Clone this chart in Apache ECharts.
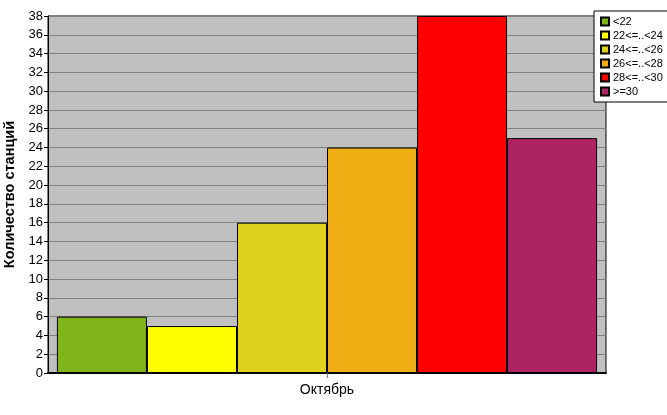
<!DOCTYPE html>
<html><head><meta charset="utf-8">
<script src="https://cdn.jsdelivr.net/npm/echarts@6/dist/echarts.min.js"></script>
<style>html,body{margin:0;padding:0;background:#fff}#c{width:667px;height:415px}</style>
</head><body><div id="c"></div>
<script>
const categories = ['Октябрь'];
const seriesNames = ['<22', '22<=..<24', '24<=..<26', '26<=..<28', '28<=..<30', '>=30'];
const seriesValues = [[6], [5], [16], [24], [38], [25]];
const seriesColors = ['#7FB519', '#FFFF00', '#E0D21C', '#EFAF14', '#FF0000', '#AE2362'];
const yTicks = {min: 0, max: 38, interval: 2};

const chart = echarts.init(document.getElementById('c'), null, {renderer: 'canvas'});
chart.setOption({
  animation: false,
  backgroundColor: '#fff',
  textStyle: {fontFamily: 'Liberation Sans, Arial, sans-serif'},
  grid: {left: 48, top: 16, right: 61, bottom: 42, show: true, containLabel: false, outerBoundsMode: 'none',
         backgroundColor: '#C0C0C0', borderColor: '#000', borderWidth: 1},
  legend: {
    orient: 'vertical', left: 594, top: 11, width: 72,
    backgroundColor: '#fff', borderColor: '#000', borderWidth: 1,
    padding: [5, 6, 5, 6], itemGap: 3, itemWidth: 8, itemHeight: 8, icon: 'rect',
    textStyle: {fontSize: 11, lineHeight: 11, color: '#000', padding: [0, 0, 0, -1]},
    data: seriesNames
  },
  xAxis: {
    type: 'category', data: categories,
    axisLine: {lineStyle: {color: '#000', width: 2}},
    axisTick: {show: true, alignWithLabel: true, length: 5, lineStyle: {color: '#808080'}},
    axisLabel: {fontSize: 14, color: '#000', margin: 10}
  },
  yAxis: {
    type: 'value', min: yTicks.min, max: yTicks.max, interval: yTicks.interval,
    name: 'Количество станций', nameLocation: 'middle', nameGap: 26,
    nameTextStyle: {fontSize: 14.5, fontWeight: 'bold', color: '#000'},
    axisLine: {show: true, lineStyle: {color: '#000', width: 1}},
    axisTick: {show: true, length: 4, lineStyle: {color: '#000'}},
    axisLabel: {fontSize: 13, color: '#000', margin: 5},
    splitLine: {lineStyle: {color: '#808080', width: 1}}
  },
  series: seriesNames.map((n, i) => ({
    name: n, type: 'bar', data: seriesValues[i],
    barGap: '0%', barCategoryGap: '3.2%',
    itemStyle: {color: seriesColors[i], borderColor: '#000', borderWidth: 1}
  }))
});
</script></body></html>
